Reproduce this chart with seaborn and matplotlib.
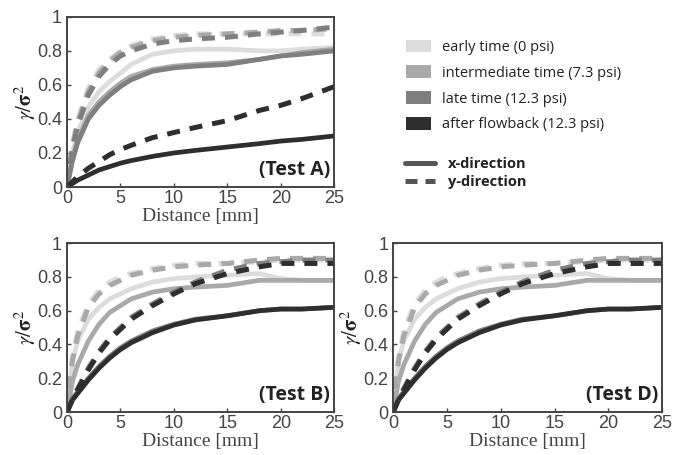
import matplotlib
matplotlib.use('Agg')
import matplotlib.pyplot as plt
import seaborn as sns
import numpy as np
from matplotlib.patches import Patch
from matplotlib.lines import Line2D

# distance sample points [mm]
dist = [0, 0.5, 1, 2, 3, 4, 5, 6, 8, 10, 12, 15, 18, 20, 22, 25]

stages = ['early time (0 psi)', 'intermediate time (7.3 psi)',
          'late time (12.3 psi)', 'after flowback (12.3 psi)']
stage_colors = ['#dcdcdc', '#a9a9a9', '#7f7f7f', '#2e2e2e']

# Test A
a_x_early = [0, 0.20, 0.32, 0.47, 0.56, 0.62, 0.67, 0.72, 0.78, 0.80, 0.81, 0.81, 0.80, 0.80, 0.81, 0.82]
a_x_inter = [0, 0.17, 0.28, 0.42, 0.50, 0.56, 0.61, 0.65, 0.69, 0.71, 0.72, 0.73, 0.75, 0.77, 0.79, 0.81]
a_x_late = [0, 0.15, 0.26, 0.40, 0.48, 0.54, 0.59, 0.63, 0.68, 0.70, 0.71, 0.72, 0.75, 0.77, 0.78, 0.80]
a_x_after = [0, 0.02, 0.04, 0.07, 0.10, 0.12, 0.14, 0.155, 0.18, 0.20, 0.215, 0.235, 0.255, 0.27, 0.28, 0.30]
a_y_early = [0, 0.25, 0.40, 0.58, 0.69, 0.75, 0.80, 0.83, 0.87, 0.89, 0.90, 0.90, 0.90, 0.90, 0.90, 0.90]
a_y_inter = [0, 0.24, 0.38, 0.56, 0.67, 0.74, 0.79, 0.82, 0.86, 0.88, 0.89, 0.90, 0.91, 0.92, 0.92, 0.93]
a_y_late = [0, 0.22, 0.36, 0.54, 0.65, 0.72, 0.77, 0.80, 0.84, 0.86, 0.87, 0.88, 0.90, 0.91, 0.92, 0.94]
a_y_after = [0, 0.03, 0.06, 0.11, 0.15, 0.19, 0.22, 0.245, 0.29, 0.32, 0.35, 0.39, 0.45, 0.48, 0.52, 0.59]

# Test B
b_x_early = [0, 0.30, 0.42, 0.55, 0.62, 0.67, 0.70, 0.73, 0.77, 0.79, 0.80, 0.81, 0.82, 0.79, 0.78, 0.78]
b_x_inter = [0, 0.18, 0.28, 0.42, 0.52, 0.59, 0.63, 0.67, 0.71, 0.73, 0.74, 0.75, 0.78, 0.78, 0.78, 0.78]
b_x_late = [0, 0.08, 0.12, 0.20, 0.27, 0.33, 0.38, 0.42, 0.48, 0.52, 0.55, 0.57, 0.60, 0.61, 0.61, 0.62]
b_x_after = [0, 0.07, 0.11, 0.19, 0.26, 0.32, 0.37, 0.41, 0.47, 0.515, 0.545, 0.57, 0.60, 0.61, 0.61, 0.62]
b_y_early = [0, 0.32, 0.48, 0.64, 0.72, 0.77, 0.80, 0.82, 0.85, 0.87, 0.88, 0.88, 0.89, 0.90, 0.90, 0.90]
b_y_inter = [0, 0.30, 0.45, 0.62, 0.70, 0.75, 0.78, 0.81, 0.84, 0.86, 0.87, 0.88, 0.90, 0.91, 0.91, 0.91]
b_y_late = [0, 0.08, 0.14, 0.26, 0.36, 0.44, 0.50, 0.56, 0.64, 0.71, 0.77, 0.84, 0.88, 0.89, 0.90, 0.90]
b_y_after = [0, 0.07, 0.13, 0.25, 0.35, 0.43, 0.49, 0.55, 0.63, 0.70, 0.76, 0.82, 0.86, 0.88, 0.88, 0.88]

# Test D (almost the same as B)
d_x_early = [0, 0.30, 0.42, 0.55, 0.62, 0.67, 0.70, 0.73, 0.77, 0.79, 0.80, 0.81, 0.82, 0.79, 0.78, 0.78]
d_x_inter = [0, 0.18, 0.28, 0.42, 0.52, 0.59, 0.63, 0.67, 0.71, 0.73, 0.74, 0.75, 0.78, 0.78, 0.78, 0.78]
d_x_late = [0, 0.08, 0.12, 0.20, 0.27, 0.33, 0.38, 0.42, 0.48, 0.52, 0.55, 0.57, 0.60, 0.61, 0.61, 0.62]
d_x_after = [0, 0.07, 0.11, 0.19, 0.26, 0.32, 0.37, 0.41, 0.47, 0.515, 0.545, 0.57, 0.60, 0.61, 0.61, 0.62]
d_y_early = [0, 0.32, 0.48, 0.64, 0.72, 0.77, 0.80, 0.82, 0.85, 0.87, 0.88, 0.88, 0.89, 0.90, 0.90, 0.90]
d_y_inter = [0, 0.30, 0.45, 0.62, 0.70, 0.75, 0.78, 0.81, 0.84, 0.86, 0.87, 0.88, 0.90, 0.91, 0.91, 0.91]
d_y_late = [0, 0.08, 0.14, 0.26, 0.36, 0.44, 0.50, 0.56, 0.64, 0.71, 0.77, 0.84, 0.88, 0.89, 0.90, 0.90]
d_y_after = [0, 0.07, 0.13, 0.25, 0.35, 0.43, 0.49, 0.55, 0.63, 0.70, 0.76, 0.82, 0.86, 0.88, 0.88, 0.88]

tests = {
    '(Test A)': ([a_x_early, a_x_inter, a_x_late, a_x_after], [a_y_early, a_y_inter, a_y_late, a_y_after]),
    '(Test B)': ([b_x_early, b_x_inter, b_x_late, b_x_after], [b_y_early, b_y_inter, b_y_late, b_y_after]),
    '(Test D)': ([d_x_early, d_x_inter, d_x_late, d_x_after], [d_y_early, d_y_inter, d_y_late, d_y_after]),
}

sns.set_theme(style='ticks')
plt.rcParams['mathtext.fontset'] = 'stix'
tick_col = '#444444'

fig = plt.figure(figsize=(6.8, 4.55), dpi=100)
positions = {'(Test A)': [0.0985, 0.589, 0.393, 0.374],
             '(Test B)': [0.0985, 0.0945, 0.393, 0.371],
             '(Test D)': [0.578, 0.0945, 0.396, 0.371]}

dash = (0, (2.6, 2.0))
for name, (xs, ys) in tests.items():
    ax = fig.add_axes(positions[name])
    for vals, c in zip(xs, stage_colors):
        sns.lineplot(x=dist, y=vals, ax=ax, color=c, linewidth=3.4, solid_capstyle='butt')
    for vals, c in zip(ys, stage_colors):
        sns.lineplot(x=dist, y=vals, ax=ax, color=c, linewidth=3.6, linestyle=dash)
    ax.set_xlim(0, 25)
    ax.set_ylim(0, 1)
    ax.set_xticks([0, 5, 10, 15, 20, 25])
    ax.set_yticks([0, 0.2, 0.4, 0.6, 0.8, 1])
    ax.set_yticklabels(['0', '0.2', '0.4', '0.6', '0.8', '1'])
    ax.tick_params(direction='in', length=3, width=1, colors=tick_col,
                   labelsize=13)
    ax.tick_params(axis='x', pad=2.5)
    ax.tick_params(axis='y', pad=3.5)
    for lab in ax.get_xticklabels() + ax.get_yticklabels():
        lab.set_family('Liberation Sans')
        lab.set_color(tick_col)
    for s in ax.spines.values():
        s.set_visible(True)
        s.set_color('#444444')
        s.set_linewidth(1.4)
    ax.set_xlabel('Distance [mm]', family='Liberation Serif', fontsize=14,
                  color=tick_col, labelpad=0.5)
    ax.set_ylabel(r'$\gamma/\mathbf{\sigma}^2$', fontsize=15, color='#222222', labelpad=-1)
    ax.text(0.985, 0.04, name, transform=ax.transAxes, ha='right', va='bottom',
            family='Open Sans', fontweight='bold', fontsize=14, color='#222222')

stage_handles = [Patch(facecolor=c, edgecolor='none') for c in stage_colors]
leg1 = fig.legend(stage_handles, stages, loc='upper left', bbox_to_anchor=(0.597, 0.913),
                  frameon=False, borderpad=0, borderaxespad=0, handlelength=1.7,
                  handleheight=0.96, handletextpad=0.75, labelspacing=0.72,
                  prop={'family': 'Open Sans', 'size': 10.5})
for t in leg1.get_texts():
    t.set_color('#222222')

dir_handles = [Line2D([], [], color='#555555', linewidth=3.6),
               Line2D([], [], color='#555555', linewidth=3.6, linestyle=(0, (2.4, 1.6)))]
leg2 = fig.legend(dir_handles, ['x-direction', 'y-direction'], loc='upper left',
                  bbox_to_anchor=(0.595, 0.654), frameon=False, borderpad=0,
                  borderaxespad=0, handlelength=2.1, handletextpad=0.9,
                  labelspacing=0.27, prop={'family': 'Open Sans', 'size': 10.5, 'weight': 'bold'})
for t in leg2.get_texts():
    t.set_color('#222222')

fig.savefig('out.png', dpi=100)
